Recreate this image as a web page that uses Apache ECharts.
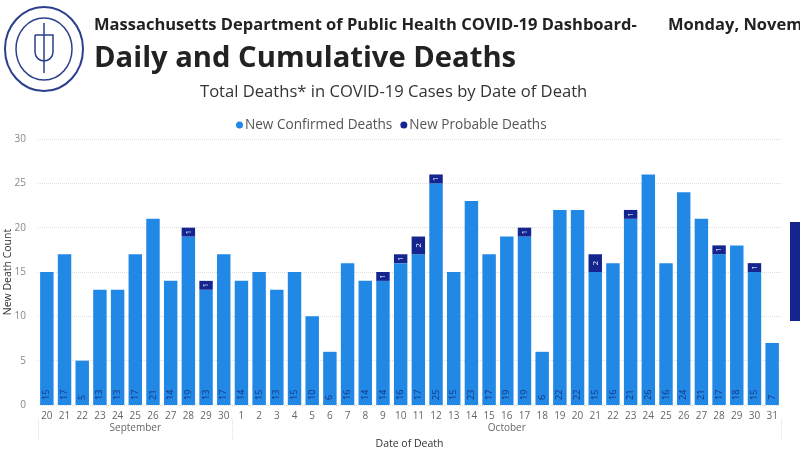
<!DOCTYPE html>
<html>
<head>
<meta charset="utf-8">
<script src="https://cdn.jsdelivr.net/npm/echarts@6/dist/echarts.min.js"></script>
<style>
  html, body { margin: 0; padding: 0; background: #fff; }
  #main { width: 800px; height: 450px; }
</style>
</head>
<body>
<div id="main"></div>
<script>
// days of death, Sep 20 - Oct 31
var days = ['20','21','22','23','24','25','26','27','28','29','30',
  '1','2','3','4','5','6','7','8','9','10','11','12','13','14','15','16','17','18','19','20',
  '21','22','23','24','25','26','27','28','29','30','31'];
var months = ['September','September','September','September','September','September','September','September','September','September','September',
  'October','October','October','October','October','October','October','October','October','October','October','October','October','October','October','October',
  'October','October','October','October','October','October','October','October','October','October','October','October','October','October','October'];
var confirmed = [15,17,5,13,13,17,21,14,19,13,17,
  14,15,13,15,10,6,16,14,14,16,17,25,15,23,17,19,19,6,22,22,
  15,16,21,26,16,24,21,17,18,15,7];
var probable = ['-','-','-','-','-','-','-','-',1,1,'-',
  '-','-','-','-','-','-','-','-',1,1,2,1,'-','-','-','-',1,'-','-','-',
  2,'-',1,'-','-','-','-',1,'-',1,'-'];
var yTicks = [0, 5, 10, 15, 20, 25, 30];

var chart = echarts.init(document.getElementById('main'));

var option = {
  backgroundColor: '#fff',
  animation: false,
  color: ['#2188e6', '#14258f'],
  title: [{
    text: 'Massachusetts Department of Public Health COVID-19 Dashboard-',
    left: 94, top: 17, padding: 0,
    textStyle: { fontFamily: 'Open Sans', fontWeight: 'bold', fontSize: 16.5, color: '#222' }
  }, {
    text: 'Monday, Novem',
    left: 668, top: 17, padding: 0,
    textStyle: { fontFamily: 'Open Sans', fontWeight: 'bold', fontSize: 16.5, color: '#222' }
  }, {
    text: 'Daily and Cumulative Deaths',
    left: 94, top: 44, padding: 0,
    textStyle: { fontFamily: 'Open Sans', fontWeight: 'bold', fontSize: 29.2, color: '#222' }
  }, {
    text: 'Total Deaths* in COVID-19 Cases by Date of Death',
    left: 200, top: 84, padding: 0,
    textStyle: { fontFamily: 'Open Sans', fontWeight: 'normal', fontSize: 16.6, color: '#333' }
  }],
  legend: {
    top: 113, left: 231,
    icon: 'circle', itemWidth: 7, itemHeight: 7, itemGap: 8,
    textStyle: { fontFamily: 'Open Sans', fontSize: 13.6, color: '#555', padding: [0, 0, 0, -3] },
    data: ['New Confirmed Deaths', 'New Probable Deaths']
  },
  grid: { left: 38, right: 19, top: 139, bottom: 45, outerBoundsMode: 'none' },
  xAxis: [{
    type: 'category',
    data: days,
    axisLine: { show: false },
    axisTick: { show: false },
    axisLabel: { fontFamily: 'Open Sans', fontSize: 10, color: '#666', margin: 6, interval: 0 }
  }, {
    type: 'category',
    data: months,
    position: 'bottom',
    offset: 14,
    axisLine: { show: false },
    axisTick: {
      show: true, length: 22, inside: false,
      interval: function (i) { return i === 0 || i === 11; },
      lineStyle: { color: '#ddd', type: 'dotted' }
    },
    axisLabel: {
      fontFamily: 'Open Sans', fontSize: 10, color: '#666', margin: 4,
      interval: function (i) { return i === 5 || i === 26; }
    },
    name: 'Date of Death', nameLocation: 'middle', nameGap: 20,
    nameTextStyle: { fontFamily: 'Open Sans', fontSize: 10.5, color: '#333' }
  }],
  yAxis: {
    type: 'value',
    min: yTicks[0], max: yTicks[yTicks.length - 1], interval: 5,
    name: 'New Death Count', nameLocation: 'middle', nameGap: 24,
    nameMoveOverlap: false,
    nameTextStyle: { fontFamily: 'Open Sans', fontSize: 10.5, color: '#333' },
    axisLabel: { fontFamily: 'Open Sans', fontSize: 10, color: '#888', margin: 12 },
    splitLine: { lineStyle: { color: '#ddd', type: 'dotted', width: 1 } },
    axisLine: { show: false },
    axisTick: { show: false }
  },
  series: [{
    name: 'New Confirmed Deaths',
    type: 'bar',
    stack: 'total',
    barCategoryGap: '24%',
    data: confirmed,
    label: {
      show: true, position: 'insideBottom', rotate: 90,
      align: 'left', verticalAlign: 'middle', distance: 5,
      fontFamily: 'Open Sans', fontSize: 9, color: '#16337e'
    }
  }, {
    name: 'New Probable Deaths',
    type: 'bar',
    stack: 'total',
    data: probable,
    label: {
      show: true, position: 'inside', rotate: 90,
      fontFamily: 'Open Sans', fontSize: 8, color: '#fff'
    }
  }],
  graphic: [{
    type: 'rect',
    shape: { x: 790, y: 222, width: 12, height: 99 },
    style: { fill: '#14258f' }
  }, {
    type: 'group',
    left: 4, top: 6,
    children: [{
      type: 'ellipse',
      shape: { cx: 40, cy: 44, rx: 39, ry: 42 },
      style: { fill: '#fff', stroke: '#2b3f8c', lineWidth: 2 }
    }, {
      type: 'ellipse',
      shape: { cx: 40, cy: 44, rx: 28, ry: 31 },
      style: { fill: 'none', stroke: '#2b3f8c', lineWidth: 1.5 }
    }, {
      type: 'rect',
      shape: { x: 31, y: 30, width: 18, height: 26, r: [0, 0, 9, 9] },
      style: { fill: 'none', stroke: '#2b3f8c', lineWidth: 1.5 }
    }, {
      type: 'line',
      shape: { x1: 40, y1: 18, x2: 40, y2: 68 },
      style: { stroke: '#2b3f8c', lineWidth: 1.5 }
    }]
  }]
};

chart.setOption(option);
</script>
</body>
</html>
